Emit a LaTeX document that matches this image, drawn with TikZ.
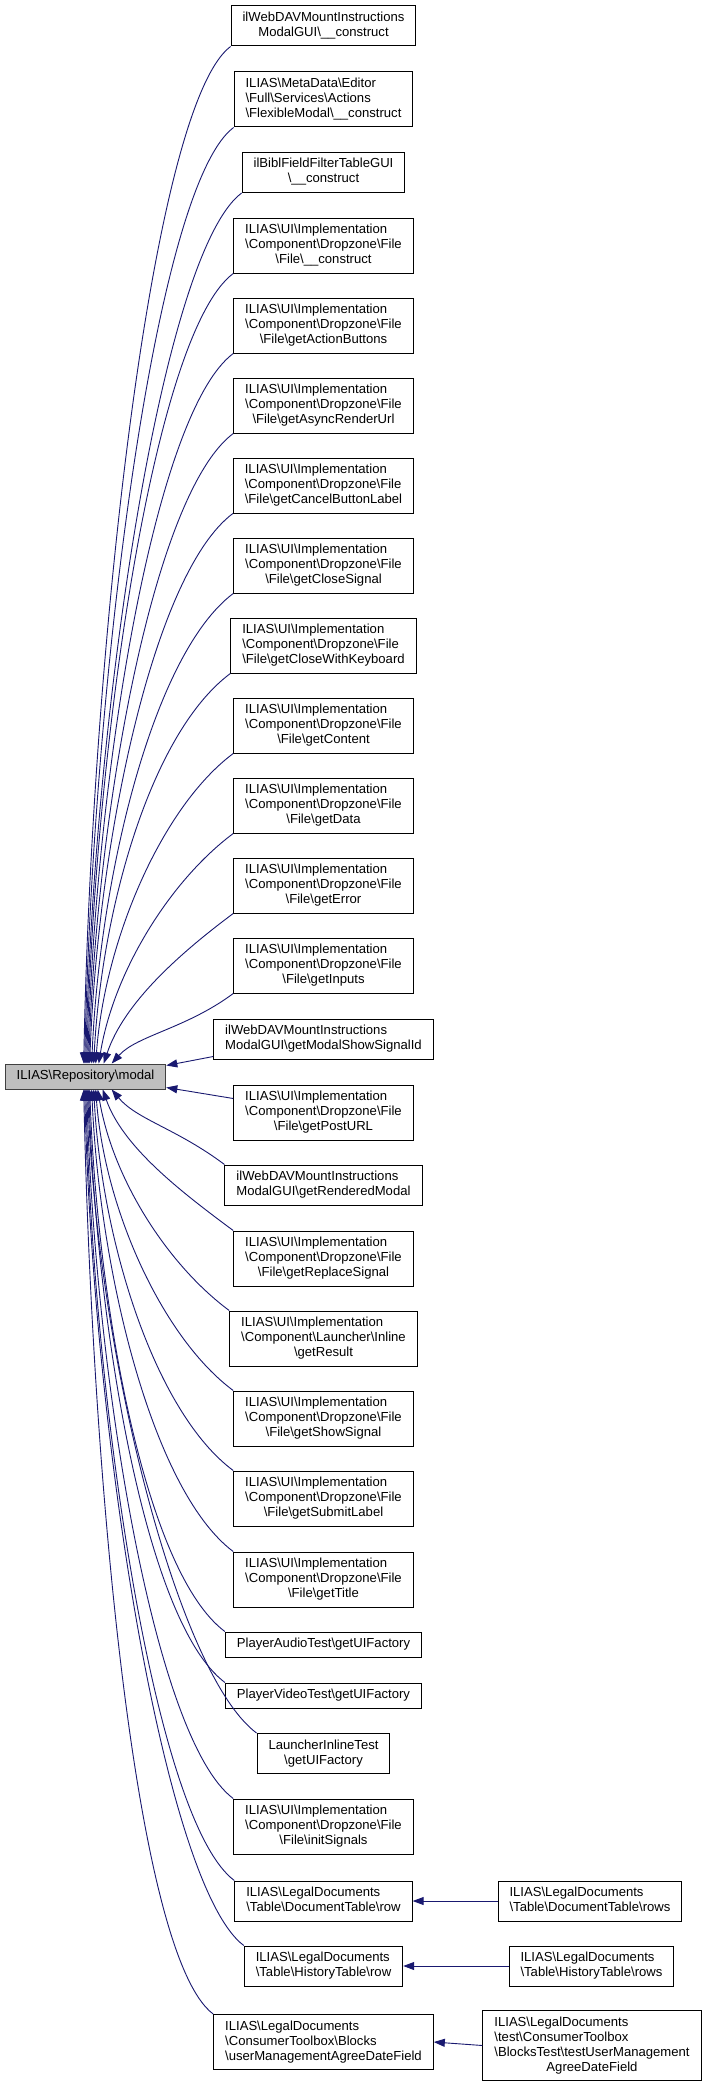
\documentclass[tikz,border=0pt]{standalone}
\usepackage{fontspec}
\setmainfont{Liberation Sans}
\usetikzlibrary{arrows.meta,calc}
\definecolor{edgecol}{HTML}{191970}
\definecolor{maingray}{HTML}{BFBFBF}
\newcommand{\bsl}{\textbackslash}
\newcommand{\lastc}[1]{\multicolumn{1}{@{}c@{}}{#1}}
\newcommand{\upedge}[4]{\draw[edge] (#1.south west) .. controls ($(#1.south west)+(#2)$) and ($(m.north west)+(#3)$) .. ($(m.north west)+(#4,0)$);}
\newcommand{\downedge}[4]{\draw[edge] (#1.north west) .. controls ($(#1.north west)+(#2)$) and ($(m.south west)+(#3)$) .. ($(m.south west)+(#4,0)$);}
\tikzset{
  box/.style={draw=black, line width=1pt, fill=white, inner xsep=11.5pt, inner ysep=5pt,
    font=\fontsize{13.1}{15}\selectfont},
  mainbox/.style={box, fill=maingray, draw=black!75},
  edge/.style={draw=edgecol, line width=0.9pt, -{Triangle[length=11pt,width=8pt]}, arrows={-{Triangle[length=11pt,width=8pt,fill=edgecol]}}},
}
\begin{document}
\begin{tikzpicture}[x=1pt,y=-1pt]
\fill[white] (0,0) rectangle (708,2087);
\useasboundingbox (0,0) rectangle (708,2087);

\node[mainbox] (m) at (85.5,1076.5) {\begin{tabular}{@{}l@{}}\lastc{ILIAS\bsl Repository\bsl modal}\end{tabular}};

\node[box] (b1) at (323.5,26) {\begin{tabular}{@{}l@{}}ilWebDAVMountInstructions\\\lastc{ModalGUI\bsl\_\_construct}\end{tabular}};
\node[box] (b2) at (323.5,99.5) {\begin{tabular}{@{}l@{}}ILIAS\bsl MetaData\bsl Editor\\\bsl Full\bsl Services\bsl Actions\\\lastc{\bsl FlexibleModal\bsl\_\_construct}\end{tabular}};
\node[box] (b3) at (323.5,172.5) {\begin{tabular}{@{}l@{}}ilBiblFieldFilterTableGUI\\\lastc{\bsl\_\_construct}\end{tabular}};
\node[box] (b4) at (323.5,245.5) {\begin{tabular}{@{}l@{}}ILIAS\bsl UI\bsl Implementation\\\bsl Component\bsl Dropzone\bsl File\\\lastc{\bsl File\bsl\_\_construct}\end{tabular}};
\node[box] (b5) at (323.5,325.5) {\begin{tabular}{@{}l@{}}ILIAS\bsl UI\bsl Implementation\\\bsl Component\bsl Dropzone\bsl File\\\lastc{\bsl File\bsl getActionButtons}\end{tabular}};
\node[box] (b6) at (323.5,405.5) {\begin{tabular}{@{}l@{}}ILIAS\bsl UI\bsl Implementation\\\bsl Component\bsl Dropzone\bsl File\\\lastc{\bsl File\bsl getAsyncRenderUrl}\end{tabular}};
\node[box] (b7) at (323.5,485.5) {\begin{tabular}{@{}l@{}}ILIAS\bsl UI\bsl Implementation\\\bsl Component\bsl Dropzone\bsl File\\\lastc{\bsl File\bsl getCancelButtonLabel}\end{tabular}};
\node[box] (b8) at (323.5,565.5) {\begin{tabular}{@{}l@{}}ILIAS\bsl UI\bsl Implementation\\\bsl Component\bsl Dropzone\bsl File\\\lastc{\bsl File\bsl getCloseSignal}\end{tabular}};
\node[box] (b9) at (323.5,645.5) {\begin{tabular}{@{}l@{}}ILIAS\bsl UI\bsl Implementation\\\bsl Component\bsl Dropzone\bsl File\\\lastc{\bsl File\bsl getCloseWithKeyboard}\end{tabular}};
\node[box] (b10) at (323.5,725.5) {\begin{tabular}{@{}l@{}}ILIAS\bsl UI\bsl Implementation\\\bsl Component\bsl Dropzone\bsl File\\\lastc{\bsl File\bsl getContent}\end{tabular}};
\node[box] (b11) at (323.5,805.5) {\begin{tabular}{@{}l@{}}ILIAS\bsl UI\bsl Implementation\\\bsl Component\bsl Dropzone\bsl File\\\lastc{\bsl File\bsl getData}\end{tabular}};
\node[box] (b12) at (323.5,885.5) {\begin{tabular}{@{}l@{}}ILIAS\bsl UI\bsl Implementation\\\bsl Component\bsl Dropzone\bsl File\\\lastc{\bsl File\bsl getError}\end{tabular}};
\node[box] (b13) at (323.5,965.5) {\begin{tabular}{@{}l@{}}ILIAS\bsl UI\bsl Implementation\\\bsl Component\bsl Dropzone\bsl File\\\lastc{\bsl File\bsl getInputs}\end{tabular}};
\node[box] (b14) at (323.5,1039) {\begin{tabular}{@{}l@{}}ilWebDAVMountInstructions\\\lastc{ModalGUI\bsl getModalShowSignalId}\end{tabular}};
\node[box] (b15) at (323.5,1112.5) {\begin{tabular}{@{}l@{}}ILIAS\bsl UI\bsl Implementation\\\bsl Component\bsl Dropzone\bsl File\\\lastc{\bsl File\bsl getPostURL}\end{tabular}};
\node[box] (b16) at (323.5,1185) {\begin{tabular}{@{}l@{}}ilWebDAVMountInstructions\\\lastc{ModalGUI\bsl getRenderedModal}\end{tabular}};
\node[box] (b17) at (323.5,1258.5) {\begin{tabular}{@{}l@{}}ILIAS\bsl UI\bsl Implementation\\\bsl Component\bsl Dropzone\bsl File\\\lastc{\bsl File\bsl getReplaceSignal}\end{tabular}};
\node[box] (b18) at (323.5,1338.5) {\begin{tabular}{@{}l@{}}ILIAS\bsl UI\bsl Implementation\\\bsl Component\bsl Launcher\bsl Inline\\\lastc{\bsl getResult}\end{tabular}};
\node[box] (b19) at (323.5,1418.5) {\begin{tabular}{@{}l@{}}ILIAS\bsl UI\bsl Implementation\\\bsl Component\bsl Dropzone\bsl File\\\lastc{\bsl File\bsl getShowSignal}\end{tabular}};
\node[box] (b20) at (323.5,1498.5) {\begin{tabular}{@{}l@{}}ILIAS\bsl UI\bsl Implementation\\\bsl Component\bsl Dropzone\bsl File\\\lastc{\bsl File\bsl getSubmitLabel}\end{tabular}};
\node[box] (b21) at (323.5,1579.5) {\begin{tabular}{@{}l@{}}ILIAS\bsl UI\bsl Implementation\\\bsl Component\bsl Dropzone\bsl File\\\lastc{\bsl File\bsl getTitle}\end{tabular}};
\node[box] (b22) at (323.5,1644.5) {\begin{tabular}{@{}l@{}}\lastc{PlayerAudioTest\bsl getUIFactory}\end{tabular}};
\node[box] (b23) at (323.5,1695.5) {\begin{tabular}{@{}l@{}}\lastc{PlayerVideoTest\bsl getUIFactory}\end{tabular}};
\node[box] (b24) at (323.5,1753.5) {\begin{tabular}{@{}l@{}}LauncherInlineTest\\\lastc{\bsl getUIFactory}\end{tabular}};
\node[box] (b25) at (323.5,1826.5) {\begin{tabular}{@{}l@{}}ILIAS\bsl UI\bsl Implementation\\\bsl Component\bsl Dropzone\bsl File\\\lastc{\bsl File\bsl initSignals}\end{tabular}};
\node[box] (b26) at (323.5,1901) {\begin{tabular}{@{}l@{}}ILIAS\bsl LegalDocuments\\\lastc{\bsl Table\bsl DocumentTable\bsl row}\end{tabular}};
\node[box] (b27) at (323.5,1966) {\begin{tabular}{@{}l@{}}ILIAS\bsl LegalDocuments\\\lastc{\bsl Table\bsl HistoryTable\bsl row}\end{tabular}};
\node[box] (b28) at (323.5,2042) {\begin{tabular}{@{}l@{}}ILIAS\bsl LegalDocuments\\\bsl ConsumerToolbox\bsl Blocks\\\lastc{\bsl userManagementAgreeDateField}\end{tabular}};

\node[box] (r26) at (590,1901) {\begin{tabular}{@{}l@{}}ILIAS\bsl LegalDocuments\\\lastc{\bsl Table\bsl DocumentTable\bsl rows}\end{tabular}};
\node[box] (r27) at (591.5,1966) {\begin{tabular}{@{}l@{}}ILIAS\bsl LegalDocuments\\\lastc{\bsl Table\bsl HistoryTable\bsl rows}\end{tabular}};
\node[box] (r28) at (592,2045.5) {\begin{tabular}{@{}l@{}}ILIAS\bsl LegalDocuments\\\bsl test\bsl ConsumerToolbox\\\bsl BlocksTest\bsl testUserManagement\\\lastc{AgreeDateField}\end{tabular}};

% edges into the top of the main node
\upedge{b1}{-80,60}{87,-407}{79}
\upedge{b2}{-80,60}{88,-374}{80}
\upedge{b3}{-80,60}{89,-348}{81}
\upedge{b4}{-80,60}{90,-316}{82}
\upedge{b5}{-80,60}{91,-284}{83}
\upedge{b6}{-80,60}{92,-252}{84}
\upedge{b7}{-80,60}{93,-220}{85}
\upedge{b8}{-80,60}{95,-188}{87}
\upedge{b9}{-79,59}{97,-156}{89}
\upedge{b10}{-71,53}{100,-124}{91}
\upedge{b11}{-63,47}{109,-92}{94}
\upedge{b12}{-55,41}{119,-60}{99}
\upedge{b13}{-47,35}{132,-28}{107}

% straight edges into the right side
\draw[edge] ($(b14.south west)+(0,-3)$) -- ($(m.north east)+(0,2)$);
\draw[edge] ($(b15.north west)+(0,14)$) -- ($(m.south east)+(0,-2)$);

% edges into the bottom of the main node
\downedge{b16}{-48,-36}{132,30}{107}
\downedge{b17}{-54,-40}{118,57}{98}
\downedge{b18}{-62,-46}{108,89}{93}
\downedge{b19}{-70,-52}{100,121}{91}
\downedge{b20}{-78,-58}{97,153}{89}
\downedge{b21}{-80,-60}{95,185}{87}
\downedge{b22}{-80,-60}{93,217}{85}
\downedge{b23}{-80,-60}{92,238}{84}
\downedge{b24}{-80,-60}{91,258}{83}
\downedge{b25}{-80,-60}{90,284}{82}
\downedge{b26}{-80,-60}{89,317}{81}
\downedge{b27}{-80,-60}{88,343}{80}
\downedge{b28}{-80,-60}{87,370}{79}

% second-level edges
\draw[edge] (r26.west) -- (b26.east);
\draw[edge] (r27.west) -- (b27.east);
\draw[edge] (r28.west) -- (b28.east);
\end{tikzpicture}
\end{document}
